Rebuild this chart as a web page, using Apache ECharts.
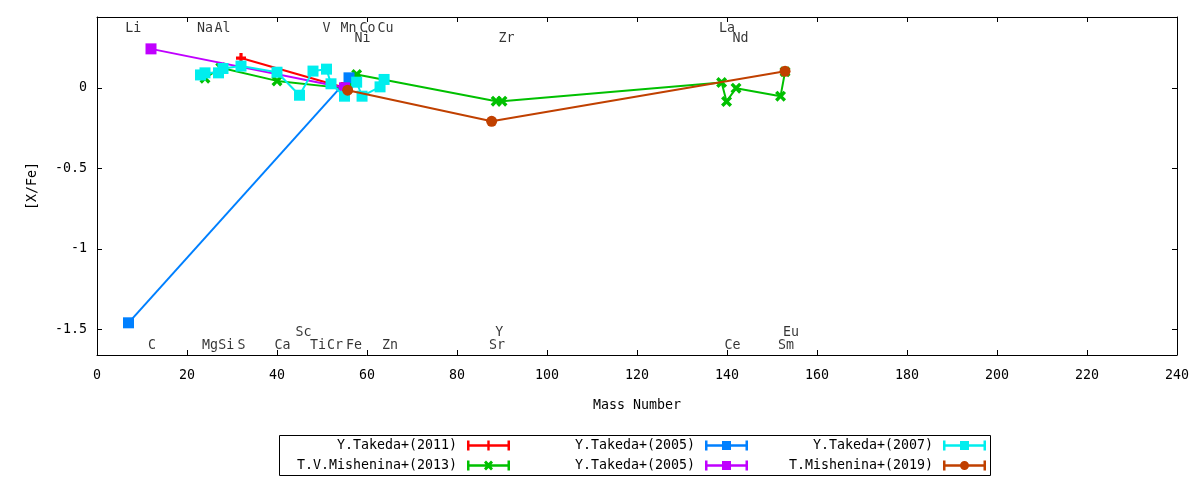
<!DOCTYPE html>
<html>
<head>
<meta charset="utf-8">
<script src="https://cdn.jsdelivr.net/npm/echarts@6.0.0/dist/echarts.min.js"></script>
<style>
html,body{margin:0;padding:0;background:#fff;}
#chart{width:1200px;height:480px;}
</style>
</head>
<body>
<div id="chart"></div>
<script>
// ---- data (mass number, [X/Fe]) ----
const takeda2011Mass = [32, 54.5];
const takeda2011Val  = [0.185, 0.005];

const mishenina2013Mass = [24, 27.5, 40, 55.7, 57.7, 88.7, 90, 138.8, 139.9, 142, 151.9, 152.9];
const mishenina2013Val  = [0.06, 0.125, 0.043, -0.005, 0.083, -0.083, -0.083, 0.033, -0.085, -0.002, -0.052, 0.10];

const takeda2005aMass = [7, 56];
const takeda2005aVal  = [-1.46, 0.062];

const takeda2005bMass = [12, 55];
const takeda2005bVal  = [0.242, 0.0];

const takeda2007Mass = [23, 24, 27, 28, 32, 40, 45, 48, 51, 52, 55, 57.7, 58.9, 62.9, 63.8];
const takeda2007Val  = [0.08, 0.093, 0.093, 0.12, 0.135, 0.097, -0.046, 0.104, 0.116, 0.025, -0.052, 0.035, -0.052, 0.006, 0.052];

const mishenina2019Mass = [55.7, 87.7, 152.9];
const mishenina2019Val  = [-0.015, -0.208, 0.103];

// element labels: [name, mass position, row]
const elementNames = ['Li','Na','Al','V','Mn','Co','Cu','La','Ni','Zr','Nd','Sc','Y','Eu','C','Mg','Si','S','Ca','Ti','Cr','Fe','Zn','Sr','Ce','Sm'];
const elementPos   = [8.07,24,27.9,51,55.9,60.1,64.1,140,59,91,143,45.9,89.4,154.2,12.2,25.1,28.7,32.1,41.2,49.1,52.9,57.1,65.1,88.9,141.2,153.1];
const elementRow   = [0,0,0,0,0,0,0,0,1,1,1,2,2,2,3,3,3,3,3,3,3,3,3,3,3,3];
const rowLevels    = [0.368, 0.306, -1.52, -1.60];

const xTicks = [0,20,40,60,80,100,120,140,160,180,200,220,240];
const yTicks = [-1.5, -1, -0.5, 0];

const seriesNames = ['Y.Takeda+(2011)','T.V.Mishenina+(2013)','Y.Takeda+(2005)#a','Y.Takeda+(2005)#b','Y.Takeda+(2007)','T.Mishenina+(2019)'];
const seriesColors = ['#ff0000','#00c000','#0080ff','#c000ff','#00eeee','#c04000'];

const FONT = 'DejaVu Sans Mono';
const FS = 13.3;
const TXT = '#000';

function pairs(m, v){ return m.map((x,i)=>[x, v[i]]); }

const plusSym = 'path://M3.4,0h3.2v3.4h3.4v3.2h-3.4v3.4h-3.2v-3.4h-3.4v-3.2h3.4z';
const crossSym = 'path://M0,2.2L2.2,0L5,2.8L7.8,0L10,2.2L7.2,5L10,7.8L7.8,10L5,7.2L2.2,10L0,7.8L2.8,5Z';

const base = 'M0,0h2.5v10h-2.5z M2.5,3.8h38v2.4h-38z M40.5,0h2.5v10h-2.5z';
const legIcons = [
  'path://' + base + ' M20.3,0h2.4v10h-2.4z',
  'path://' + base + ' M17,2L19,0L21.5,2.5L24,0L26,2L23.5,5L26,8L24,10L21.5,7.5L19,10L17,8L19.5,5Z',
  'path://' + base + ' M17,0.5h9v9h-9z',
  'path://' + base + ' M17,0.5h9v9h-9z',
  'path://' + base + ' M17,0.5h9v9h-9z',
  'path://' + base + ' M17,5a4.5,4.5 0 1,1 9,0a4.5,4.5 0 1,1 -9,0z'
];
const symbols = [plusSym, crossSym, 'rect', 'rect', 'rect', 'circle'];
const symSizes = [10, 11, 11, 11, 11, 11];
const datasets = [
  pairs(takeda2011Mass, takeda2011Val),
  pairs(mishenina2013Mass, mishenina2013Val),
  pairs(takeda2005aMass, takeda2005aVal),
  pairs(takeda2005bMass, takeda2005bVal),
  pairs(takeda2007Mass, takeda2007Val),
  pairs(mishenina2019Mass, mishenina2019Val)
];

const series = seriesNames.map((n,i)=>({
  name: n, type: 'line', data: datasets[i],
  symbol: symbols[i], symbolSize: symSizes[i], showSymbol: true,
  lineStyle: {color: seriesColors[i], width: 2},
  itemStyle: {color: seriesColors[i]},
  z: 2 + i,
  silent: true
}));

series.push({
  name: 'labels', type: 'scatter',
  data: elementNames.map((n,i)=>({name:n, value:[elementPos[i], rowLevels[elementRow[i]]]})),
  symbolSize: 1, itemStyle: {color: 'rgba(0,0,0,0)'},
  label: {show: true, position: 'inside', formatter: '{b}', color: TXT, fontFamily: FONT, fontSize: FS},
  z: 20, silent: true
});

const colRight = [690, 452, 214];
const rowTop = [439, 459];
const legends = seriesNames.map((n,i)=>({
  data: [{name: n, icon: legIcons[i]}],
  right: colRight[Math.floor(i/2)],
  top: rowTop[i%2],
  align: 'right', orient: 'horizontal',
  itemWidth: 43, itemHeight: 10, padding: 0,
  selectedMode: false,
  formatter: (name)=>name.split('#')[0],
  textStyle: {fontFamily: FONT, fontSize: FS, color: TXT, padding: [0, 5, 0, 0]}
}));

const axisCommonX = {type: 'value', min: 0, max: 240, interval: 20,
  axisLine: {show: true, onZero: false, lineStyle: {color: '#000', width: 1}},
  axisTick: {show: true, inside: true, length: 5, lineStyle: {color: '#000'}},
  splitLine: {show: false}};
const axisCommonY = {type: 'value', min: -1.66, max: 0.44,
  axisLine: {show: true, onZero: false, lineStyle: {color: '#000', width: 1}},
  axisTick: {show: true, inside: true, length: 5, lineStyle: {color: '#000'}, customValues: yTicks},
  splitLine: {show: false}};

const option = {
  animation: false,
  backgroundColor: '#fff',
  grid: {left: 97, right: 23, top: 17, bottom: 125, containLabel: false},
  xAxis: [
    Object.assign({}, axisCommonX, {position: 'bottom',
      name: 'Mass Number', nameLocation: 'middle', nameGap: 44,
      nameTextStyle: {fontFamily: FONT, fontSize: FS, color: TXT},
      axisLabel: {show: true, margin: 14, color: TXT, fontFamily: FONT, fontSize: FS, customValues: xTicks}}),
    Object.assign({}, axisCommonX, {position: 'top', axisLabel: {show: false}})
  ],
  yAxis: [
    Object.assign({}, axisCommonY, {position: 'left',
      name: '[X/Fe]', nameLocation: 'middle', nameGap: 58, nameRotate: 90,
      nameTextStyle: {fontFamily: FONT, fontSize: FS, color: TXT},
      axisLabel: {show: true, margin: 10, color: TXT, fontFamily: FONT, fontSize: FS, customValues: yTicks,
        formatter: (v)=>String(v)}}),
    Object.assign({}, axisCommonY, {position: 'right', axisLabel: {show: false}})
  ],
  legend: legends,
  graphic: [{type: 'rect', shape: {x: 279.5, y: 435.5, width: 711, height: 40},
    style: {fill: 'none', stroke: '#000', lineWidth: 1}, silent: true}],
  series: series
};

const chart = echarts.init(document.getElementById('chart'), null, {renderer: 'canvas'});
chart.setOption(option);
</script>
</body>
</html>
